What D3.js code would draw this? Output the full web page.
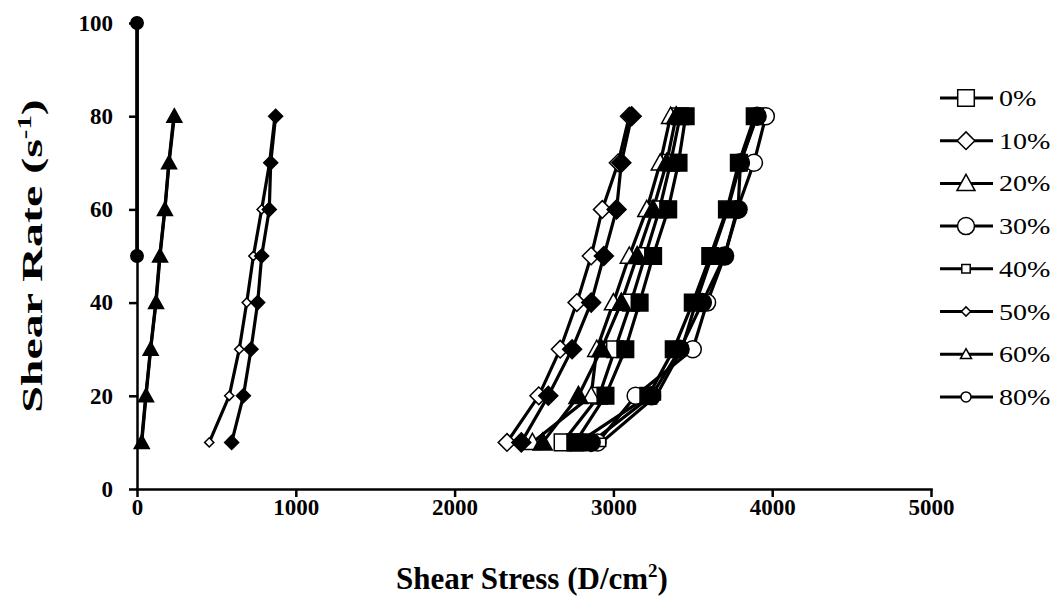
<!DOCTYPE html>
<html>
<head>
<meta charset="utf-8">
<script src="https://cdn.jsdelivr.net/npm/d3@7"></script>
<style>
  body { margin: 0; background: #fff; }
  svg { display: block; }
  .axis text { font-family: "Liberation Serif", "Times New Roman", serif; font-weight: bold; font-size: 23px; fill: #000; }
  .axis path, .axis line { stroke: #000; stroke-width: 2.5px; }
</style>
</head>
<body>
<div id="chart"></div>
<script>
// shear rates (s^-1) for each measured point
var shearRates = [10, 20, 30, 40, 50, 60, 70, 80];
var shearRates80 = [50, 100];

// shear stress (D/cm2) -- open markers
var open0  = [2680, 2910, 3010, 3110, 3200, 3290, 3360, 3420];
var open10 = [2330, 2530, 2665, 2770, 2860, 2930, 3030, 3100];
var open20 = [2490, 2860, 2895, 3000, 3100, 3210, 3295, 3360];
var open30 = [2900, 3140, 3500, 3590, 3700, 3780, 3885, 3960];
var open40 = [2925, 3270, 3430, 3520, 3620, 3720, 3800, 3900];
var open50 = [455, 581, 644, 691, 733, 785, 835, 869];
var open60 = [28, 55, 85, 118, 143, 175, 200, 232];
var open80 = [0, 0];

// filled markers (second set)
var fill0  = [2760, 2950, 3075, 3165, 3250, 3345, 3410, 3455];
var fill10 = [2420, 2590, 2740, 2860, 2940, 3020, 3050, 3115];
var fill20 = [2555, 2780, 2925, 3050, 3150, 3250, 3335, 3395];
var fill30 = [2860, 3240, 3420, 3560, 3700, 3785, 3800, 3905];
var fill40 = [2780, 3220, 3380, 3500, 3610, 3715, 3790, 3890];
var fill50 = [596, 670, 718, 760, 785, 833, 842, 873];
var fill60 = [30, 57, 86, 120, 145, 176, 202, 235];
var fill80 = [0, 0];

var legendLabels = ["0%", "10%", "20%", "30%", "40%", "50%", "60%", "80%"];
var xTicks = [0, 1000, 2000, 3000, 4000, 5000];
var yTicks = [0, 20, 40, 60, 80, 100];

var shapes = ["square", "diamond", "triangle", "circle", "square", "diamond", "triangle", "circle"];
var openSizes = [8.3, 8.8, 9, 8.5, 4.2, 4.6, 5.5, 5];
var fillSizes = [8.3, 9.5, 9.5, 9, 8.3, 7, 7.5, 6.2];

var openSets = [open0, open10, open20, open30, open40, open50, open60, open80];
var fillSets = [fill0, fill10, fill20, fill30, fill40, fill50, fill60, fill80];

var width = 1055, height = 606;
var margin = { left: 137, top: 23, right: 124, bottom: 117 };
var plotW = width - margin.left - margin.right;
var plotH = height - margin.top - margin.bottom;

var svg = d3.select("#chart").append("svg")
  .attr("width", width)
  .attr("height", height)
  .style("font-family", '"Liberation Serif", "Times New Roman", serif');

var chart = svg.append("g")
  .attr("transform", "translate(" + margin.left + "," + margin.top + ")");

var x = d3.scaleLinear().domain([0, 5000]).range([0, plotW]);
var y = d3.scaleLinear().domain([0, 100]).range([plotH, 0]);

// custom marker shapes, r = half size
function shapeType(name) {
  return {
    draw: function (ctx, r) {
      if (name == "square") {
        ctx.moveTo(-r, -r); ctx.lineTo(r, -r); ctx.lineTo(r, r); ctx.lineTo(-r, r); ctx.closePath();
      } else if (name == "diamond") {
        ctx.moveTo(0, -r); ctx.lineTo(r, 0); ctx.lineTo(0, r); ctx.lineTo(-r, 0); ctx.closePath();
      } else if (name == "triangle") {
        ctx.moveTo(0, -r); ctx.lineTo(r, r * 0.8); ctx.lineTo(-r, r * 0.8); ctx.closePath();
      } else {
        ctx.moveTo(r, 0); ctx.arc(0, 0, r, 0, 2 * Math.PI);
      }
    }
  };
}

// axes
chart.append("g")
  .attr("class", "axis")
  .attr("transform", "translate(0," + plotH + ")")
  .call(d3.axisBottom(x).tickValues(xTicks).tickFormat(d3.format("d")).tickSizeInner(8).tickSizeOuter(0).tickPadding(2));

chart.append("g")
  .attr("class", "axis")
  .call(d3.axisLeft(y).tickValues(yTicks).tickSizeInner(8).tickSizeOuter(0).tickPadding(16));

chart.selectAll(".axis .domain").attr("stroke-linecap", "square");

// build series table
var series = [];
openSets.forEach(function (xs, i) {
  var ys = i == 7 ? shearRates80 : shearRates;
  series.push({ shape: shapes[i], size: openSizes[i], filled: false,
    pts: xs.map(function (v, j) { return [v, ys[j]]; }) });
});
fillSets.forEach(function (xs, i) {
  var ys = i == 7 ? shearRates80 : shearRates;
  series.push({ shape: shapes[i], size: fillSizes[i], filled: true,
    pts: xs.map(function (v, j) { return [v, ys[j]]; }) });
});

var line = d3.line().x(function (d) { return x(d[0]); }).y(function (d) { return y(d[1]); });

series.forEach(function (s) {
  chart.append("path")
    .attr("d", line(s.pts))
    .attr("fill", "none")
    .attr("stroke", "#000")
    .attr("stroke-width", 3.2);
});

series.forEach(function (s) {
  chart.append("g").selectAll("path")
    .data(s.pts)
    .enter().append("path")
    .attr("transform", function (d) { return "translate(" + x(d[0]) + "," + y(d[1]) + ")"; })
    .attr("d", d3.symbol().type(shapeType(s.shape)).size(s.size))
    .attr("fill", s.filled ? "#000" : "#fff")
    .attr("stroke", "#000")
    .attr("stroke-width", 1.5);
});

// axis titles
var xTitle = svg.append("text")
  .attr("x", margin.left + x(2500) - 2)
  .attr("y", 589)
  .attr("text-anchor", "middle")
  .attr("font-weight", "bold")
  .attr("font-size", 31);
xTitle.append("tspan").text("Shear Stress (D/cm");
xTitle.append("tspan").attr("font-size", 19).attr("dy", -12).text("2");
xTitle.append("tspan").attr("dy", 12).text(")");

var yTitle = svg.append("text")
  .attr("transform", "translate(42," + (margin.top + y(50)) + ") rotate(-90) scale(1.6,1)")
  .attr("text-anchor", "middle")
  .attr("font-weight", "bold")
  .attr("font-size", 30);
yTitle.append("tspan").text("Shear Rate (s");
yTitle.append("tspan").attr("font-size", 18).attr("dy", -11).text("-1");
yTitle.append("tspan").attr("dy", 11).text(")");

// legend
var legend = svg.append("g").attr("transform", "translate(940,98)");
var rows = legend.selectAll("g")
  .data(legendLabels)
  .enter().append("g")
  .attr("transform", function (d, i) { return "translate(0," + (i * 42.7) + ")"; });

rows.append("line")
  .attr("x1", 0).attr("x2", 53)
  .attr("stroke", "#000").attr("stroke-width", 3);

rows.append("path")
  .attr("transform", "translate(26,0)")
  .attr("d", function (d, i) { return d3.symbol().type(shapeType(shapes[i])).size(openSizes[i])(); })
  .attr("fill", "#fff")
  .attr("stroke", "#000")
  .attr("stroke-width", 1.5);

rows.append("text")
  .attr("transform", "translate(59,8) scale(1.22,1)")
  .attr("font-size", 23)
  .text(function (d) { return d; });
</script>
</body>
</html>
